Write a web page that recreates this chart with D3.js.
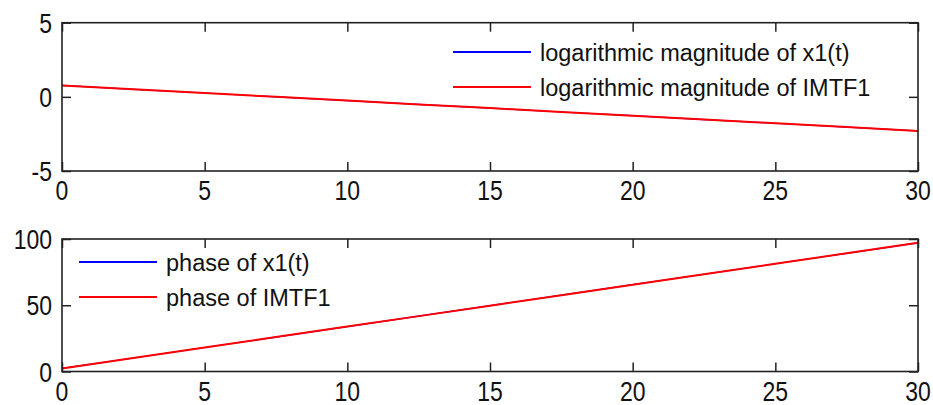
<!DOCTYPE html>
<html>
<head>
<meta charset="utf-8">
<script src="https://cdn.jsdelivr.net/npm/d3@7"></script>
<style>
  body{margin:0;background:#fff;}
  svg{display:block;}
  text{font-family:Arial,"Liberation Sans",sans-serif;fill:#111;}
</style>
</head>
<body>
<div id="chart"></div>
<script>
// sample points
var tVals=[0,2.5,5,7.5,10,12.5,15,17.5,20,22.5,25,27.5,30];
var magX1=[0.77,0.51,0.26,0.00,-0.25,-0.51,-0.76,-1.02,-1.27,-1.53,-1.78,-2.04,-2.30];
var magIMTF1=[0.77,0.51,0.26,0.00,-0.25,-0.51,-0.76,-1.02,-1.27,-1.53,-1.78,-2.04,-2.30];
var phaseX1=[2.3,10.2,18.1,26.0,33.9,41.8,49.7,57.6,65.5,73.4,81.3,89.2,97.1];
var phaseIMTF1=[2.3,10.2,18.1,26.0,33.9,41.8,49.7,57.6,65.5,73.4,81.3,89.2,97.1];
var xTicks=[0,5,10,15,20,25,30];
var magTicks=[-5,0,5];
var phaseTicks=[0,50,100];
var magLegend=['logarithmic magnitude of x1(t)','logarithmic magnitude of IMTF1'];
var phaseLegend=['phase of x1(t)','phase of IMTF1'];
var colors=['#0000ff','#ff0000'];
var widths=[1.2,2];

var W=933,H=405;
var svg=d3.select('#chart').append('svg').attr('width',W).attr('height',H);

function panel(top,bottom,yDomain,yTicks,series,legend,lx,ly){
  var x=d3.scaleLinear().domain([0,30]).range([62,918]);
  var y=d3.scaleLinear().domain(yDomain).range([bottom,top]);
  var g=svg.append('g');
  var line=d3.line().x(function(d,i){return x(tVals[i]);}).y(function(d){return y(d);});

  //the data lines, blue first so red sits on top
  series.forEach(function(s,i){
    g.append('path').datum(s)
      .attr('d',line)
      .attr('fill','none')
      .attr('stroke',colors[i])
      .attr('stroke-width',widths[i]);
  });

  //ticks on all four sides, pointing inward
  var tk=9;
  var axes=[
    d3.axisBottom(x).tickValues(xTicks).tickSizeInner(-tk).tickSizeOuter(0).tickFormat(''),
    d3.axisTop(x).tickValues(xTicks).tickSizeInner(-tk).tickSizeOuter(0).tickFormat(''),
    d3.axisLeft(y).tickValues(yTicks).tickSizeInner(-tk).tickSizeOuter(0).tickFormat(''),
    d3.axisRight(y).tickValues(yTicks).tickSizeInner(-tk).tickSizeOuter(0).tickFormat('')
  ];
  var pos=['translate(0,'+bottom+')','translate(0,'+top+')','translate(62,0)','translate(918,0)'];
  axes.forEach(function(a,i){
    var ag=g.append('g').attr('transform',pos[i]).call(a);
    ag.selectAll('line').attr('stroke','#222').attr('stroke-width',1.5);
    ag.select('.domain').remove();
  });
  g.append('rect')
    .attr('x',62).attr('y',top)
    .attr('width',918-62).attr('height',bottom-top)
    .attr('fill','none').attr('stroke','#222').attr('stroke-width',1.6);

  //tick labels
  xTicks.forEach(function(v){
    g.append('text')
      .attr('transform','translate('+x(v)+','+(bottom+29)+') scale(1,1.2)')
      .attr('text-anchor','middle')
      .style('font-size','23px')
      .text(v);
  });
  yTicks.forEach(function(v){
    g.append('text')
      .attr('transform','translate(52,'+(y(v)+10)+') scale(1,1.2)')
      .attr('text-anchor','end')
      .style('font-size','23px')
      .text(v);
  });

  //legend, no box
  legend.forEach(function(name,i){
    var yy=ly+i*35;
    g.append('line')
      .attr('x1',lx).attr('x2',lx+78)
      .attr('y1',yy).attr('y2',yy)
      .attr('stroke',colors[i]).attr('stroke-width',2);
    g.append('text')
      .attr('x',lx+87).attr('y',yy+8.5)
      .style('font-size','23.5px')
      .text(name);
  });
}

panel(22.7,171,[-5,5],magTicks,[magX1,magIMTF1],magLegend,453,52);
panel(239,371.5,[0,100],phaseTicks,[phaseX1,phaseIMTF1],phaseLegend,79,262);
</script>
</body>
</html>
